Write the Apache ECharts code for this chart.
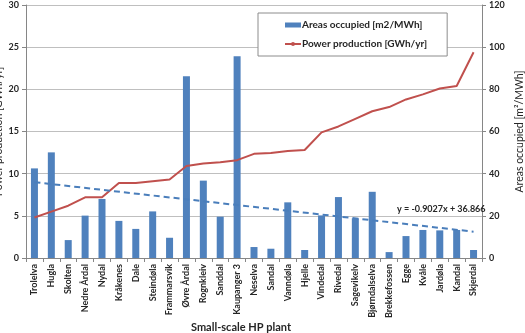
<!DOCTYPE html>
<html><head><meta charset="utf-8">
<script src="https://cdn.jsdelivr.net/npm/echarts@6/dist/echarts.min.js"></script>
<style>html,body{margin:0;padding:0;background:#fff}#c{width:525px;height:333px}</style>
</head><body><div id="c"></div>
<script>
const plants = ["Trolelva","Hugla","Skolten","Nedre Årdal","Nydal","Kråkenes","Dale","Steindøla","Frammarsvik","Øvre Årdal","Rognkleiv","Sanddal","Kaupanger 3","Neselva","Sandal","Vanndøla","Hjelle","Vindedal","Rivedal","Sagevikelv","Bjørndalselva","Brekkefossen","Egge","Kvåle","Jardøla","Kandal","Skjerdal"];
const areasOccupied = [42.5,50.1,8.5,20.1,28.0,17.6,13.8,22.1,9.6,86.2,36.7,19.6,95.7,5.2,4.4,26.4,3.8,20.2,28.9,18.8,31.4,2.8,10.4,13.3,13.1,13.3,3.8];
const powerProduction = [4.8,5.5,6.2,7.2,7.2,8.9,8.9,9.1,9.3,10.9,11.2,11.35,11.6,12.35,12.45,12.7,12.8,14.9,15.6,16.5,17.4,17.9,18.8,19.4,20.1,20.4,24.4];
const trendEnds = [35.96, 12.49];
const trendLabel = "y = -0.9027x + 36.866";
const leftTicks = {min:0,max:30,interval:5};
const rightTicks = {min:0,max:120,interval:20};

const F = "Lato, 'Open Sans', sans-serif";
const trendData = [[plants[0], trendEnds[0]], [plants[plants.length-1], trendEnds[1]]];
const chart = echarts.init(document.getElementById('c'));
chart.setOption({
  animation:false,
  textStyle:{fontFamily:F},
  grid:{left:26,right:43,top:5,bottom:75,containLabel:false,outerBoundsMode:'none'},
  legend:{
    orient:'vertical', left:258, top:13, width:170,
    padding:[7,20,7,26], itemGap:9,
    backgroundColor:'#fff', borderColor:'#8c8c8c', borderWidth:1,
    itemWidth:16, itemHeight:5,
    textStyle:{fontFamily:F,fontSize:10,fontWeight:'bold',color:'#262626',padding:[0,0,0,-4]},
    data:[{name:'Areas occupied [m2/MWh]',icon:'rect'},{name:'Power production [GWh/yr]'}]
  },
  xAxis:{
    type:'category', data:plants,
    name:'Small-scale HP plant', nameLocation:'middle', nameGap:64, nameMoveOverlap:false,
    nameTextStyle:{fontFamily:F,fontSize:11,fontWeight:'bold',color:'#262626',padding:[0,26,0,0]},
    axisLine:{lineStyle:{color:'#868686'}},
    axisTick:{show:true,length:4,lineStyle:{color:'#868686'}},
    axisLabel:{rotate:90,interval:0,fontSize:9,fontWeight:'bold',color:'#262626',margin:6}
  },
  yAxis:[
    {type:'value',min:leftTicks.min,max:leftTicks.max,interval:leftTicks.interval,
     name:'Power production [GWh/yr]',nameLocation:'middle',nameGap:22,nameMoveOverlap:false,
     nameTextStyle:{fontFamily:F,fontSize:10.5,color:'#262626'},
     axisLine:{show:true,lineStyle:{color:'#868686'}},
     axisTick:{show:true,length:4,lineStyle:{color:'#868686'}},
     axisLabel:{fontSize:9,fontWeight:'bold',color:'#262626',margin:7},
     splitLine:{lineStyle:{color:'#bfbfbf'}}},
    {type:'value',min:rightTicks.min,max:rightTicks.max,interval:rightTicks.interval,
     name:'Areas occupied [m²/MWh]',nameLocation:'middle',nameGap:32,nameRotate:90,nameMoveOverlap:false,
     nameTextStyle:{fontFamily:F,fontSize:10.5,color:'#262626'},
     axisLine:{show:true,lineStyle:{color:'#868686'}},
     axisTick:{show:true,length:4,lineStyle:{color:'#868686'}},
     axisLabel:{fontSize:9,fontWeight:'bold',color:'#262626',margin:7},
     splitLine:{show:false}}
  ],
  series:[
    {name:'Areas occupied [m2/MWh]',type:'bar',yAxisIndex:1,data:areasOccupied,
     barWidth:7,itemStyle:{color:'#4f81bd'},z:2},
    {name:'Power production [GWh/yr]',type:'line',yAxisIndex:0,data:powerProduction,
     symbol:'none',lineStyle:{color:'#c0504d',width:2},itemStyle:{color:'#c0504d'},z:3},
    {name:'trend',type:'line',yAxisIndex:1,data:trendData,symbol:'none',
     lineStyle:{color:'#4a7ebb',width:2,type:[6,4]},z:4,
     label:{show:false},
     endLabel:{show:true,formatter:trendLabel,fontFamily:F,fontSize:9,fontWeight:'bold',color:'#262626',
       align:'right',verticalAlign:'bottom',offset:[4,-18]}}
  ]
});
</script></body></html>
